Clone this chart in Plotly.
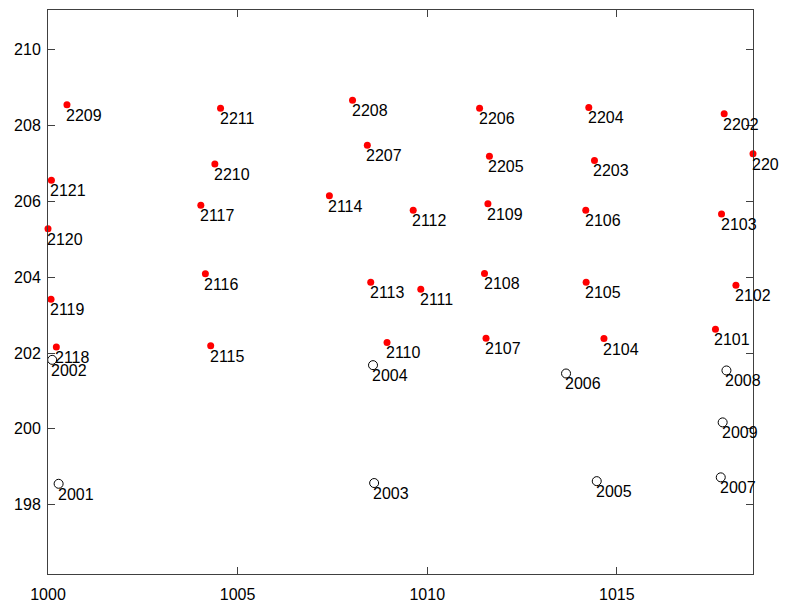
import plotly.graph_objects as go

# Red filled points (21xx / 22xx)
red_labels = ["2209", "2211", "2210", "2121", "2117", "2120", "2116",
              "2208", "2206", "2207", "2205", "2114", "2112", "2109", "2108", "2113", "2111",
              "2204", "2202", "2201", "2203", "2106", "2103", "2105", "2102",
              "2119", "2118", "2115", "2110", "2107", "2104", "2101"]
red_x = [1000.50, 1004.55, 1004.40, 1000.09, 1004.03, 1000.00, 1004.15,
         1008.03, 1011.38, 1008.42, 1011.64, 1007.42, 1009.63, 1011.60, 1011.51, 1008.51, 1009.83,
         1014.26, 1017.83, 1018.59, 1014.41, 1014.18, 1017.76, 1014.19, 1018.14,
         1000.08, 1000.22, 1004.29, 1008.94, 1011.55, 1014.66, 1017.60]
red_y = [208.55, 208.46, 206.99, 206.56, 205.90, 205.28, 204.09,
         208.67, 208.46, 207.48, 207.19, 206.15, 205.77, 205.94, 204.10, 203.87, 203.68,
         208.48, 208.31, 207.26, 207.08, 205.77, 205.67, 203.87, 203.79,
         203.42, 202.16, 202.19, 202.28, 202.39, 202.38, 202.63]

# Open black circles (20xx)
open_labels = ["2001", "2002", "2003", "2004", "2005", "2006", "2007", "2008", "2009"]
open_x = [1000.28, 1000.11, 1008.60, 1008.57, 1014.47, 1013.66, 1017.74, 1017.89, 1017.79]
open_y = [198.55, 201.82, 198.57, 201.68, 198.62, 201.46, 198.72, 201.54, 200.17]

x_ticks = [1000, 1005, 1010, 1015]
y_ticks = [198, 200, 202, 204, 206, 208, 210]
x_range = [1000, 1018.59]
y_range = [196.17, 211.05]

FONT = "Liberation Sans, Arial, Helvetica, sans-serif"

fig = go.Figure()
fig.add_trace(go.Scatter(
    x=open_x, y=open_y, mode="markers",
    marker=dict(symbol="circle-open", size=9, color="black", line=dict(width=1, color="black")),
    cliponaxis=False, showlegend=False, hoverinfo="skip"))
fig.add_trace(go.Scatter(
    x=red_x, y=red_y, mode="markers",
    marker=dict(symbol="circle", size=7, color="#ff0000", line=dict(width=0)),
    cliponaxis=False, showlegend=False, hoverinfo="skip"))

annotations = []
for lx, ly, lt in list(zip(red_x, red_y, red_labels)) + list(zip(open_x, open_y, open_labels)):
    annotations.append(dict(x=lx, y=ly, text=lt, showarrow=False, xanchor="left", yanchor="top",
                            xshift=-3, yshift=0, font=dict(family=FONT, size=16, color="black")))

axis_common = dict(showline=True, linecolor="#404040", linewidth=1, mirror="ticks",
                   ticks="inside", ticklen=7, tickwidth=1, tickcolor="#404040",
                   showgrid=False, zeroline=False,
                   tickfont=dict(family=FONT, size=16, color="black"))

fig.update_layout(
    width=779, height=595,
    margin=dict(l=40, r=34, t=2, b=29, autoexpand=False),
    paper_bgcolor="white", plot_bgcolor="white",
    xaxis=dict(range=x_range, tickvals=x_ticks, ticktext=[str(v) for v in x_ticks],
               ticklabelstandoff=6, **axis_common),
    yaxis=dict(range=y_range, tickvals=y_ticks, ticktext=[str(v) for v in y_ticks],
               ticklabelstandoff=3, **axis_common),
    annotations=annotations,
)

fig.write_html("out.html")
